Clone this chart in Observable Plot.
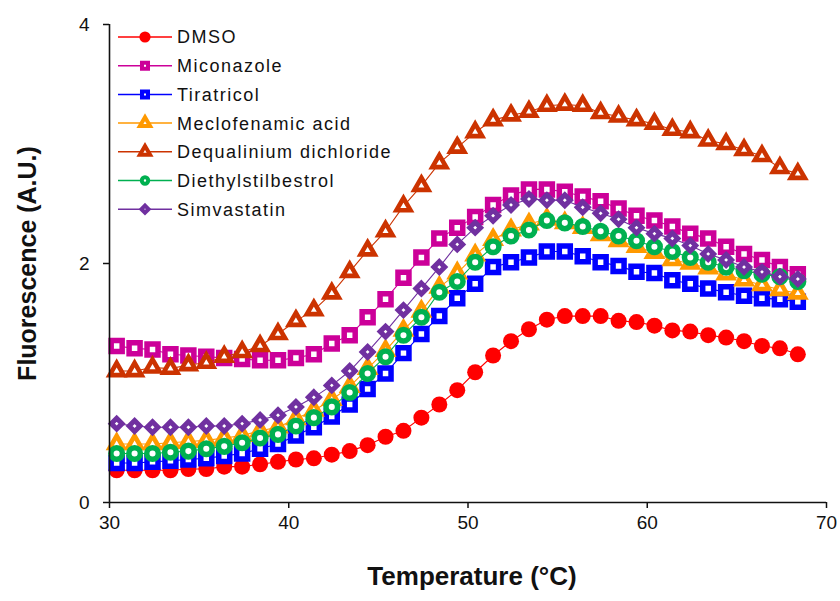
<!DOCTYPE html>
<html>
<head>
<meta charset="utf-8">
<script src="https://cdn.jsdelivr.net/npm/d3@7"></script>
<script src="https://cdn.jsdelivr.net/npm/@observablehq/plot@0.6"></script>
<style>
  html, body { margin: 0; padding: 0; background: #fff; }
  #wrap { position: relative; width: 840px; height: 601px; font-family: "Liberation Sans", Arial, sans-serif; }
  #legend { position: absolute; left: 0; top: 0; pointer-events: none; }
</style>
</head>
<body>
<div id="wrap"></div>
<script>
// ---- data ----
const temperature = [30.4, 31.4, 32.4, 33.4, 34.4, 35.4, 36.4, 37.4, 38.4, 39.4,
  40.4, 41.4, 42.4, 43.4, 44.4, 45.4, 46.4, 47.4, 48.4, 49.4,
  50.4, 51.4, 52.4, 53.4, 54.4, 55.4, 56.4, 57.4, 58.4, 59.4,
  60.4, 61.4, 62.4, 63.4, 64.4, 65.4, 66.4, 67.4, 68.4];

const seriesNames = ["DMSO", "Miconazole", "Tiratricol", "Meclofenamic acid",
  "Dequalinium dichloride", "Diethylstilbestrol", "Simvastatin"];

const dmso = [0.27, 0.27, 0.27, 0.27, 0.28, 0.28, 0.30, 0.30, 0.32, 0.34,
  0.36, 0.37, 0.40, 0.43, 0.48, 0.55, 0.60, 0.71, 0.82, 0.94,
  1.09, 1.23, 1.35, 1.45, 1.53, 1.56, 1.56, 1.56, 1.52, 1.51,
  1.48, 1.44, 1.43, 1.40, 1.38, 1.35, 1.31, 1.29, 1.24];

const miconazole = [1.31, 1.29, 1.28, 1.24, 1.23, 1.22, 1.21, 1.20, 1.19, 1.19,
  1.21, 1.24, 1.33, 1.40, 1.55, 1.70, 1.88, 2.05, 2.21, 2.30,
  2.39, 2.49, 2.57, 2.62, 2.62, 2.60, 2.56, 2.52, 2.46, 2.40,
  2.36, 2.31, 2.25, 2.21, 2.14, 2.08, 2.03, 1.97, 1.91];

const tiratricol = [0.33, 0.33, 0.34, 0.35, 0.36, 0.37, 0.39, 0.41, 0.45, 0.49,
  0.56, 0.63, 0.72, 0.82, 0.95, 1.08, 1.25, 1.41, 1.56, 1.71,
  1.83, 1.97, 2.01, 2.05, 2.10, 2.10, 2.06, 2.01, 1.98, 1.93,
  1.92, 1.86, 1.83, 1.79, 1.76, 1.73, 1.71, 1.70, 1.68];

const meclofenamic = [0.49, 0.49, 0.49, 0.50, 0.51, 0.52, 0.54, 0.56, 0.60, 0.63,
  0.70, 0.77, 0.86, 0.97, 1.12, 1.27, 1.44, 1.60, 1.80, 1.92,
  2.07, 2.20, 2.28, 2.33, 2.37, 2.34, 2.30, 2.24, 2.19, 2.14,
  2.09, 2.03, 2.00, 1.96, 1.91, 1.86, 1.82, 1.78, 1.75];

const dequalinium = [1.10, 1.10, 1.13, 1.12, 1.15, 1.17, 1.22, 1.26, 1.31, 1.41,
  1.52, 1.61, 1.75, 1.93, 2.11, 2.27, 2.48, 2.65, 2.84, 2.97,
  3.10, 3.20, 3.24, 3.27, 3.32, 3.33, 3.32, 3.26, 3.23, 3.20,
  3.17, 3.12, 3.10, 3.03, 3.00, 2.95, 2.90, 2.80, 2.75];

const diethylstilbestrol = [0.41, 0.41, 0.41, 0.42, 0.43, 0.45, 0.47, 0.50, 0.54, 0.57,
  0.64, 0.71, 0.80, 0.92, 1.08, 1.22, 1.40, 1.55, 1.76, 1.85,
  2.01, 2.14, 2.23, 2.28, 2.36, 2.34, 2.31, 2.27, 2.23, 2.19,
  2.14, 2.10, 2.05, 2.01, 1.97, 1.94, 1.91, 1.89, 1.85];

const simvastatin = [0.66, 0.64, 0.63, 0.63, 0.63, 0.64, 0.64, 0.66, 0.69, 0.73,
  0.80, 0.88, 0.98, 1.10, 1.26, 1.43, 1.61, 1.79, 1.97, 2.16,
  2.30, 2.40, 2.49, 2.54, 2.53, 2.53, 2.47, 2.42, 2.37, 2.30,
  2.25, 2.21, 2.15, 2.08, 2.03, 1.97, 1.93, 1.89, 1.87];

const xTicks = [30, 40, 50, 60, 70];
const yTicks = [0, 2, 4];

// ---- styles ----
const values = [dmso, miconazole, tiratricol, meclofenamic, dequalinium, diethylstilbestrol, simvastatin];
const styles = [
  {color: "#FF0000", symbol: "circle", r: 8, filled: true, sw: 0, lr: 5.6, lsw: 0},
  {color: "#CC0099", symbol: "square", r: 6.2, filled: false, sw: 5.5, lr: 3.4, lsw: 4},
  {color: "#0000FF", symbol: "square", r: 6.2, filled: false, sw: 5.5, lr: 3.4, lsw: 4},
  {color: "#FF9900", symbol: "triangle", r: 5.2, filled: false, sw: 4.6, lr: 3.8, lsw: 4},
  {color: "#CC3300", symbol: "triangle", r: 5.2, filled: false, sw: 4.6, lr: 3.8, lsw: 4},
  {color: "#00B050", symbol: "circle", r: 5.8, filled: false, sw: 5.5, lr: 3.2, lsw: 4},
  {color: "#7030A0", symbol: "diamond2", r: 4.9, filled: false, sw: 5, lr: 3.2, lsw: 4}
];

const series = seriesNames.map((name, k) =>
  temperature.map((t, i) => ({name, t, v: values[k][i]})));

const font = '"Liberation Sans", Arial, sans-serif';

const marks = [];
series.forEach((data, k) => {
  const s = styles[k];
  marks.push(Plot.line(data, {x: "t", y: "v", stroke: s.color, strokeWidth: 1.1}));
  marks.push(Plot.dot(data, {
    x: "t", y: "v", symbol: s.symbol, r: s.r,
    fill: s.filled ? s.color : "white",
    stroke: s.filled ? "none" : s.color,
    strokeWidth: s.sw
  }));
});

const chart = Plot.plot({
  width: 840,
  height: 601,
  marginLeft: 109,
  marginRight: 14,
  marginTop: 24,
  marginBottom: 99,
  style: {fontFamily: font, background: "white", color: "#111"},
  x: {domain: [30, 70]},
  y: {domain: [0, 4]},
  marks: [
    Plot.axisX({ticks: xTicks, tickFormat: "d", tickSize: 6, tickPadding: 7, fontSize: 19, label: null, strokeWidth: 1.5}),
    Plot.axisY({ticks: yTicks, tickFormat: "d", tickSize: 6, tickPadding: 14, fontSize: 19, label: null, strokeWidth: 1.5}),
    ...marks,
    Plot.ruleY([0], {stroke: "#111", strokeWidth: 1.6}),
    Plot.ruleX([30], {stroke: "#111", strokeWidth: 1.6}),
    Plot.text(["Temperature (°C)"], {frameAnchor: "bottom", dx: 4, dy: 82, fontSize: 26, fontWeight: "bold", fill: "#111"}),
    Plot.text(["Fluorescence (A.U.)"], {frameAnchor: "left", textAnchor: "middle", dx: -82, rotate: -90, fontSize: 25, fontWeight: "bold", fill: "#111"})
  ]
});

const wrap = document.getElementById("wrap");
wrap.appendChild(chart);

// ---- legend (overlay, inside the plot's top-left) ----
const legend = d3.select(wrap).append("svg")
  .attr("id", "legend").attr("width", 840).attr("height", 601);
const symbolTypes = {circle: d3.symbolCircle, square: d3.symbolSquare, triangle: d3.symbolTriangle, diamond2: d3.symbolDiamond2};
const legendTop = 37, legendStep = 28.7, lx0 = 118, lx1 = 172, lxm = 145, ltx = 177;
seriesNames.forEach((name, k) => {
  const s = styles[k];
  const y = legendTop + k * legendStep;
  const g = legend.append("g");
  g.append("line").attr("x1", lx0).attr("x2", lx1).attr("y1", y).attr("y2", y)
    .attr("stroke", s.color).attr("stroke-width", 1.5);
  g.append("path")
    .attr("d", d3.symbol(symbolTypes[s.symbol], Math.PI * s.lr * s.lr)())
    .attr("transform", `translate(${lxm},${y})`)
    .attr("fill", s.filled ? s.color : "white")
    .attr("stroke", s.filled ? "none" : s.color)
    .attr("stroke-width", s.lsw);
  g.append("text").attr("x", ltx).attr("y", y).attr("dy", "0.36em")
    .attr("font-family", font).attr("font-size", 18).attr("fill", "#111")
    .attr("letter-spacing", 1.5)
    .text(name);
});
</script>
</body>
</html>
